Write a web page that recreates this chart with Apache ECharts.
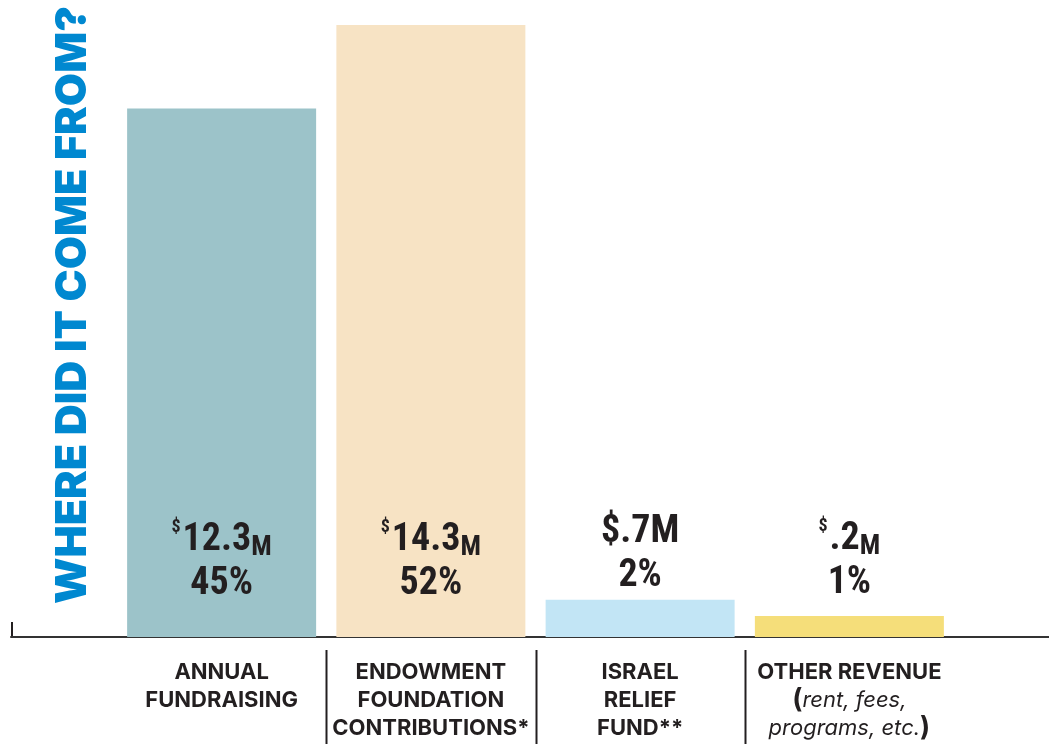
<!DOCTYPE html>
<html><head><meta charset="utf-8">
<script src="https://cdn.jsdelivr.net/npm/echarts@6/dist/echarts.min.js"></script>
<style>html,body{margin:0;padding:0;background:#fff}#c{width:1049px;height:744px}</style>
</head><body><div id="c"></div>
<script>
const categories = ['ANNUAL\nFUNDRAISING', 'ENDOWMENT\nFOUNDATION\nCONTRIBUTIONS*', 'ISRAEL\nRELIEF\nFUND**', 'OTHER REVENUE\n(rent, fees,\nprograms, etc.)'];
const amounts = ['12.3', '14.3', '.7', '.2'];
const percents = ['45%', '52%', '2%', '1%'];
const barHeights = [12.35, 14.3, 0.87, 0.49];
const barColors = ['#9cc3c9', '#f7e3c4', '#c2e5f5', '#f5de7a'];
const titleText = 'WHERE DID IT COME FROM?';

const ink = '#231f20';
const valFont = '"Liberation Sans Narrow", "Roboto Condensed", sans-serif';
const catFont = 'Inter, "Open Sans", sans-serif';

const labelCfg = [
  {position: 'insideBottom', distance: 31},
  {position: 'insideBottom', distance: 31},
  {position: 'top', distance: 1},
  {position: 'top', distance: 11}
];

const chart = echarts.init(document.getElementById('c'), null, {renderer: 'canvas'});

const data = barHeights.map((v, i) => ({
  value: v,
  itemStyle: {color: barColors[i]},
  label: labelCfg[i]
}));

const option = {
  animation: false,
  backgroundColor: '#fff',
  grid: [
    {left: 117, right: 95, top: 25, bottom: 107},
    {left: 11, right: 0, top: 25, bottom: 107}
  ],
  xAxis: [
    {
      type: 'category', gridIndex: 0, data: categories,
      axisLine: {show: false}, axisTick: {show: false},
      axisLabel: {
        margin: 21, interval: 0,
        formatter: function (v, i) {
          if (i === 3) {
            return '{c|OTHER REVENUE}\n{p|(}{it|rent, fees,}\n{it|programs, etc.}{p|)}';
          }
          return v.split('\n').map(s => '{c|' + s + '}').join('\n');
        },
        rich: {
          c: {fontFamily: catFont, fontWeight: 700, fontSize: 22, color: ink, lineHeight: 28},
          it: {fontFamily: catFont, fontStyle: 'italic', fontWeight: 400, fontSize: 22, color: ink, lineHeight: 28},
          p: {fontFamily: catFont, fontWeight: 700, fontSize: 27, color: ink, lineHeight: 28}
        }
      }
    },
    {
      type: 'value', gridIndex: 1, min: 0, max: 1,
      axisLine: {show: true, lineStyle: {color: '#333', width: 2}},
      axisTick: {show: false}, axisLabel: {show: false}, splitLine: {show: false}
    }
  ],
  yAxis: [
    {type: 'value', gridIndex: 0, min: 0, max: 14.3, show: false},
    {type: 'value', gridIndex: 1, min: 0, max: 1, show: false}
  ],
  series: [{
    type: 'bar', xAxisIndex: 0, yAxisIndex: 0, barWidth: 189,
    data: data,
    label: {
      show: true,
      formatter: function (p) {
        const i = p.dataIndex;
        if (i === 2) {
          return '{b|$' + amounts[i] + 'M}\n{b|' + percents[i] + '}';
        }
        return '{s|$}{b|' + amounts[i] + '}{m|M}\n{b|' + percents[i] + '}';
      },
      rich: {
        b: {fontFamily: valFont, fontWeight: 'bold', fontSize: 38, color: ink, lineHeight: 44},
        s: {fontFamily: valFont, fontWeight: 'bold', fontSize: 18, color: ink, lineHeight: 30, verticalAlign: 'top', padding: [0, 2, 0, 0]},
        m: {fontFamily: valFont, fontWeight: 'bold', fontSize: 27, color: ink, lineHeight: 38, verticalAlign: 'bottom'}
      }
    }
  }]
};
chart.setOption(option);

const gfx = [];
for (let i = 0; i < categories.length - 1; i++) {
  const a = chart.convertToPixel({xAxisIndex: 0}, i);
  const b = chart.convertToPixel({xAxisIndex: 0}, i + 1);
  const x = Math.round((a + b) / 2) + 0.5;
  gfx.push({type: 'line', shape: {x1: x, y1: 650, x2: x, y2: 744}, style: {stroke: ink, lineWidth: 2}});
}
gfx.push({type: 'line', shape: {x1: 12, y1: 622, x2: 12, y2: 638}, style: {stroke: ink, lineWidth: 2}});
gfx.push({
  type: 'text', x: 73, y: 305, rotation: Math.PI / 2,
  style: {
    text: titleText, fill: '#0088d0', fontFamily: 'Inter, sans-serif', fontWeight: 900, fontSize: 43,
    align: 'center', verticalAlign: 'middle'
  }
});
chart.setOption({graphic: gfx});
</script>
</body></html>
